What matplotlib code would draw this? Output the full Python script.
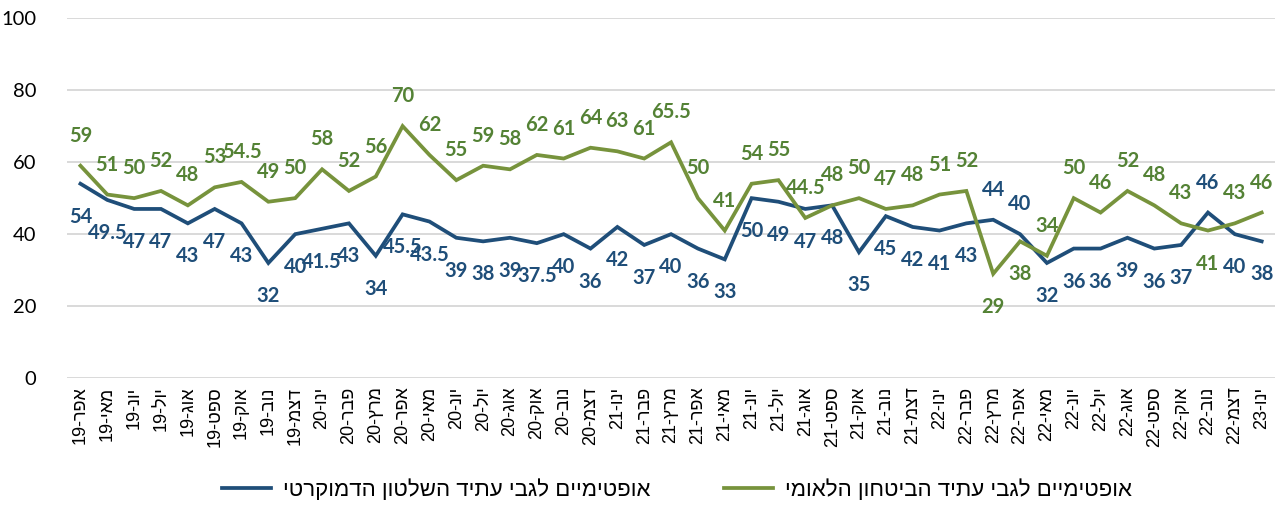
import numpy as np
import matplotlib.pyplot as plt

# month labels (logical Hebrew order), Sep-20 is missing in the source
months = ['אפר-19', 'מאי-19', 'יונ-19', 'יול-19', 'אוג-19', 'ספט-19', 'אוק-19', 'נוב-19', 'דצמ-19',
          'ינו-20', 'פבר-20', 'מרץ-20', 'אפר-20', 'מאי-20', 'יונ-20', 'יול-20', 'אוג-20', 'אוק-20',
          'נוב-20', 'דצמ-20',
          'ינו-21', 'פבר-21', 'מרץ-21', 'אפר-21', 'מאי-21', 'יונ-21', 'יול-21', 'אוג-21', 'ספט-21',
          'אוק-21', 'נוב-21', 'דצמ-21',
          'ינו-22', 'פבר-22', 'מרץ-22', 'אפר-22', 'מאי-22', 'יונ-22', 'יול-22', 'אוג-22', 'ספט-22',
          'אוק-22', 'נוב-22', 'דצמ-22',
          'ינו-23']

security = [59, 51, 50, 52, 48, 53, 54.5, 49, 50, 58, 52, 56, 70, 62, 55, 59, 58, 62, 61, 64,
            63, 61, 65.5, 50, 41, 54, 55, 44.5, 48, 50, 47, 48, 51, 52, 29, 38, 34, 50, 46, 52,
            48, 43, 41, 43, 46]
democracy = [54, 49.5, 47, 47, 43, 47, 43, 32, 40, 41.5, 43, 34, 45.5, 43.5, 39, 38, 39, 37.5, 40, 36,
             42, 37, 40, 36, 33, 50, 49, 47, 48, 35, 45, 42, 41, 43, 44, 40, 32, 36, 36, 39,
             36, 37, 46, 40, 38]

label_security = 'אופטימיים לגבי עתיד הביטחון הלאומי'
label_democracy = 'אופטימיים לגבי עתיד השלטון הדמוקרטי'

# indices where the data label flips side
sec_below = {34, 35, 42}
dem_above = {34, 35, 42}


def visual_month(s):
    # matplotlib has no bidi support: put the glyphs in visual order
    m, y = s.split('-')
    return y + '-' + m[::-1]


def visual(s):
    return s[::-1]


plt.rcParams['font.family'] = ['Liberation Sans', 'DejaVu Sans']

c_blue = '#1F4E79'
c_green_line = '#77933C'
c_green_txt = '#548235'

fig = plt.figure(figsize=(12.77, 5.16), dpi=100)
ax = fig.add_axes([0.0525, 0.267, 0.946, 0.698])

x = np.arange(len(months))
ax.plot(x, democracy, color=c_blue, lw=2.7, label=visual(label_democracy), solid_joinstyle='miter')
ax.plot(x, security, color=c_green_line, lw=2.7, label=visual(label_security), solid_joinstyle='miter')

for i, v in enumerate(security):
    dy = -33 if i in sec_below else 30
    ax.annotate('{:g}'.format(v), (i, v), xytext=(0, dy), textcoords='offset pixels',
                ha='center', va='center', fontsize=14.5, fontweight='bold', color=c_green_txt,
                family=['Lato', 'DejaVu Sans'])
for i, v in enumerate(democracy):
    dy = 30 if i in dem_above else -33
    ax.annotate('{:g}'.format(v), (i, v), xytext=(0, dy), textcoords='offset pixels',
                ha='center', va='center', fontsize=14.5, fontweight='bold', color=c_blue,
                family=['Lato', 'DejaVu Sans'])

ax.set_xlim(-0.5, len(months) - 0.5)
ax.set_ylim(0, 100)
ax.set_yticks(range(0, 101, 20))
ax.yaxis.grid(True, color='#D9D9D9', lw=1.4)
ax.set_axisbelow(True)
for s in ax.spines.values():
    s.set_visible(False)
ax.tick_params(axis='y', length=0, labelsize=14.5, pad=22)
for t in ax.get_yticklabels():
    t.set_family(['Lato', 'DejaVu Sans'])
ax.set_xticks(x)
ax.set_xticklabels([visual_month(m) for m in months], rotation=90, fontsize=13)
ax.tick_params(axis='x', length=0, pad=6)

fig.legend(loc='lower center', bbox_to_anchor=(0.53, -0.01), ncol=2, frameon=False,
           fontsize=16, handlelength=2.2, columnspacing=3.3, handletextpad=0.55)

fig.savefig('out.png', dpi=100)
